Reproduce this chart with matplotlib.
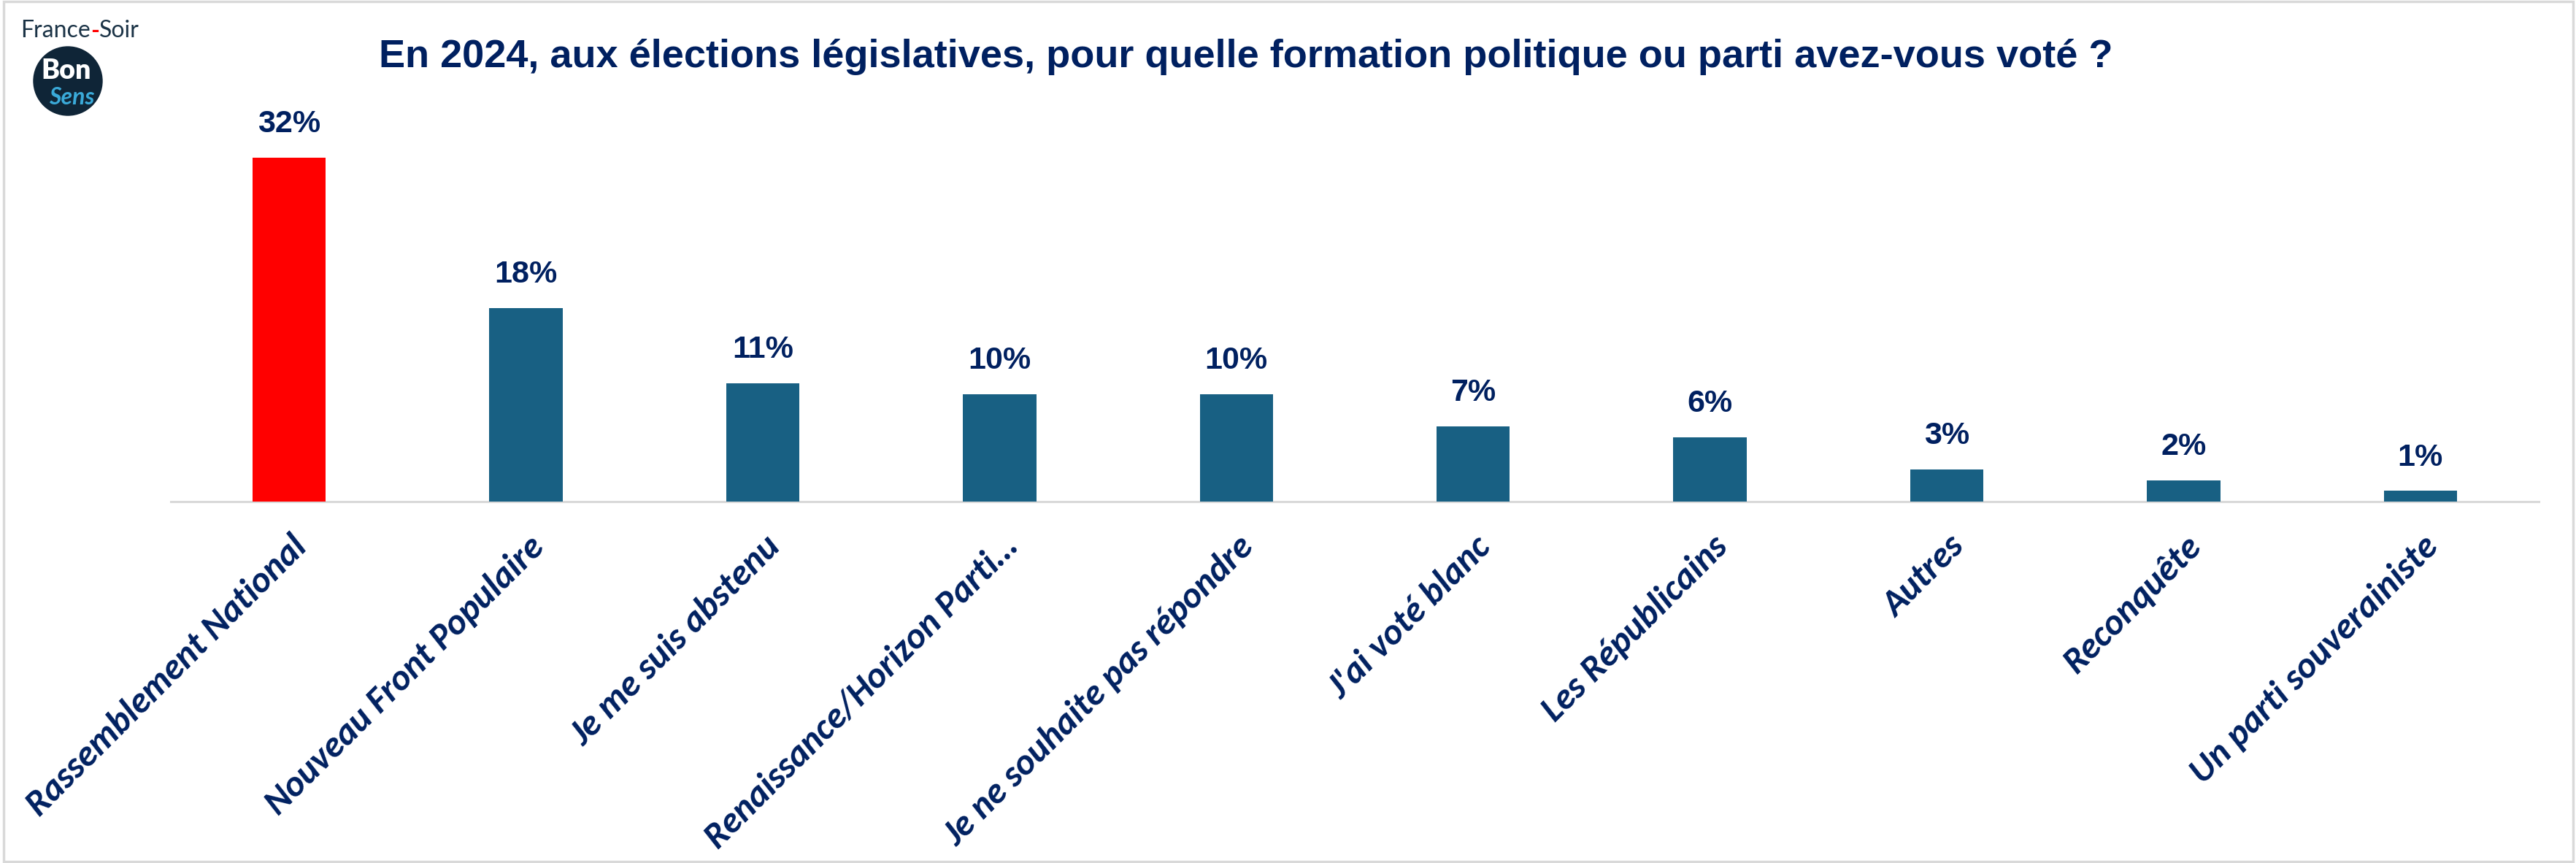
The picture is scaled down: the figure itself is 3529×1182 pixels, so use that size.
#!/usr/bin/env python3

# Bar chart: vote aux législatives 2024 (France-Soir / BonSens poll).

import matplotlib
matplotlib.use("Agg")
import matplotlib.pyplot as plt
from matplotlib.patches import Circle, Rectangle
import numpy as np

TITLE = ("En 2024, aux élections législatives, pour quelle formation "
         "politique ou parti avez-vous voté ?")
CATEGORIES = [
    "Rassemblement National",
    "Nouveau Front Populaire",
    "Je me suis abstenu",
    "Renaissance/Horizon Parti…",
    "Je ne souhaite pas répondre",
    "J'ai voté blanc",
    "Les Républicains",
    "Autres",
    "Reconquête",
    "Un parti souverainiste",
]
VALUES = [32, 18, 11, 10, 10, 7, 6, 3, 2, 1]
HIGHLIGHT = "Rassemblement National"

NAVY = "#002060"
TEAL = "#186083"
RED = "#ff0000"
GRID_GREY = "#d9d9d9"

W_PX, H_PX, DPI = 3530, 1182, 100


def main():
    fig = plt.figure(figsize=(W_PX / DPI, H_PX / DPI), dpi=DPI)
    ax = fig.add_axes([234 / W_PX, 495 / H_PX, 3244 / W_PX, 515 / H_PX])

    x = np.arange(len(CATEGORIES))
    colors = [RED if c == HIGHLIGHT else TEAL for c in CATEGORIES]
    ax.bar(x, VALUES, width=0.31, color=colors, zorder=2)

    ax.set_xlim(-0.5, len(CATEGORIES) - 0.5)
    ax.set_ylim(0, 35)

    # value labels above the bars
    for xi, v in zip(x, VALUES):
        ax.annotate(f"{v}%", (xi, v), xytext=(0, 25), textcoords="offset points",
                    ha="center", va="baseline", fontsize=31, fontweight="bold",
                    color=NAVY, family=["Liberation Sans", "DejaVu Sans"])

    # rotated category labels
    ax.set_xticks(x)
    ax.set_xticklabels([])
    for xi, cat in zip(x, CATEGORIES):
        ax.annotate(cat, (xi, 0), xytext=(1, -28), textcoords="offset points",
                    ha="right", va="top", rotation=45, rotation_mode="anchor",
                    fontsize=36, fontweight="bold", fontstyle="italic",
                    color=NAVY, family=["Carlito", "Lato", "DejaVu Sans"],
                    annotation_clip=False)

    ax.tick_params(length=0, labelleft=False)
    for side in ["top", "left", "right"]:
        ax.spines[side].set_visible(False)
    ax.spines["bottom"].set_color(GRID_GREY)
    ax.spines["bottom"].set_linewidth(2.2)
    ax.spines["bottom"].set_zorder(1)

    fig.text(1707 / W_PX, 1 - 78 / H_PX, TITLE, ha="center", va="center",
             fontsize=39, fontweight="bold", color=NAVY,
             family=["Liberation Sans", "DejaVu Sans"])

    # France-Soir / BonSens logo
    logo_font = dict(fontsize=23, color="#1b3346", family=["Lato", "DejaVu Sans"])
    t1 = fig.text(28 / W_PX, 1 - 51 / H_PX, "France", ha="left", va="baseline",
                  **logo_font)
    t2 = ax.annotate("-", xy=(1, 0), xycoords=t1, ha="left", va="bottom",
                     fontsize=23, fontweight="bold", color=RED,
                     family=["Lato", "DejaVu Sans"], annotation_clip=False)
    ax.annotate("Soir", xy=(1, 0), xycoords=t2, ha="left", va="bottom",
                annotation_clip=False, **logo_font)
    fig.add_artist(Circle((0.93, (H_PX - 111) / DPI), 0.47,
                          transform=fig.dpi_scale_trans, color="#0f2537"))
    fig.text(91 / W_PX, 1 - 108 / H_PX, "Bon", ha="center", va="baseline",
             fontsize=27, fontweight="heavy", color="white",
             family=["Lato", "DejaVu Sans"])
    fig.text(98 / W_PX, 1 - 143 / H_PX, "Sens", ha="center", va="baseline",
             fontsize=23, fontweight="bold", fontstyle="italic", color="#3aaad9",
             family=["Lato", "DejaVu Sans"])

    # outer frame
    fig.add_artist(Rectangle((0.0015, 0.0015), 0.997, 0.997,
                             transform=fig.transFigure, fill=False,
                             edgecolor=GRID_GREY, linewidth=2.5))

    fig.savefig("out.png", dpi=DPI, facecolor="white")


if __name__ == "__main__":
    main()
